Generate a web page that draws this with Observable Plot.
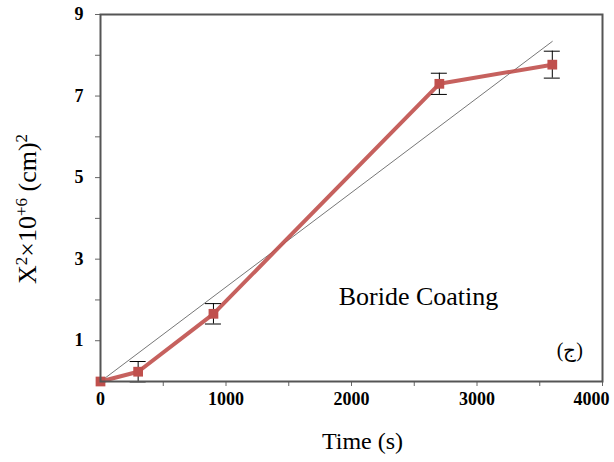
<!DOCTYPE html>
<html>
<head>
<meta charset="utf-8">
<script src="https://cdn.jsdelivr.net/npm/d3@7"></script>
<script src="https://cdn.jsdelivr.net/npm/@observablehq/plot@0.6"></script>
<style>
  html, body { margin: 0; padding: 0; background: #fff; }
  #chart svg { display: block; }
</style>
</head>
<body>
<div id="chart"></div>
<script>
// Data
const times = [0, 300, 900, 2700, 3600];           // Time (s)
const values = [0, 0.24, 1.66, 7.30, 7.77];        // X^2 x 10^-6 (cm)^2
const errors = [0, 0.25, 0.25, 0.26, 0.33];        // error bar half-widths
const trendTimes = [0, 3600];                       // linear trend line ends
const trendValues = [0, 8.34];
const xTicks = [0, 500, 1000, 1500, 2000, 2500, 3000, 3500, 4000];
const xLabelTicks = [0, 1000, 2000, 3000];
const xLastTick = [4000];
const yTicks = [1, 2, 3, 4, 5, 6, 7, 8, 9];
const xTitle = "Time (s)";
const yTitleParts = [["X", 0], ["2", 1], ["×10", 0], ["+6", 1], [" (cm)", 0], ["2", 1]];
const notes = [
  {text: "Boride Coating", x: 2534, y: 2.08, size: 26, weight: "normal"},
  {text: "\u200E(\u062C\u200E)\u200E", x: 3740, y: 0.75, size: 20, weight: "bold"}
];

const points = times.map((t, i) => ({t, v: values[i], e: errors[i]}));
const bars = points.filter(d => d.e > 0);
const trend = trendTimes.map((t, i) => ({t, v: trendValues[i]}));

const red = "#c0504d";
const serif = "'Liberation Serif', 'Times New Roman', serif";
const tickStyle = {fontSize: 18, fontWeight: "bold", stroke: "#666", label: null};

const chart = Plot.plot({
  width: 614,
  height: 462,
  marginLeft: 100,
  marginRight: 12,
  marginTop: 14,
  marginBottom: 81,
  style: {fontFamily: serif, background: "#fff", color: "#000"},
  x: {domain: [0, 4000]},
  y: {domain: [0, 9]},
  marks: [
    Plot.axisX({ticks: xTicks, tickFormat: null, text: null, tickSize: 5, stroke: "#666", label: null}),
    Plot.axisX({ticks: xLabelTicks, tickFormat: d => String(d), tickSize: 0, tickPadding: 11, ...tickStyle}),
    Plot.axisX({ticks: xLastTick, tickFormat: d => String(d), tickSize: 0, tickPadding: 11, dx: -11, ...tickStyle}),
    Plot.axisY({ticks: yTicks, tickFormat: d => d % 2 === 1 ? String(d) : "", tickSize: 5, tickPadding: 12, ...tickStyle}),
    Plot.line(trend, {x: "t", y: "v", stroke: "#777", strokeWidth: 1}),
    Plot.line(points, {x: "t", y: "v", stroke: red, strokeWidth: 4, strokeOpacity: 0.9}),
    Plot.ruleX(bars, {x: "t", y1: d => d.v - d.e, y2: d => d.v + d.e, stroke: "#000", strokeWidth: 1}),
    Plot.ruleY(bars, {y: d => d.v - d.e, x1: "t", x2: "t", insetLeft: -8, insetRight: -8, stroke: "#000", strokeWidth: 1}),
    Plot.ruleY(bars, {y: d => d.v + d.e, x1: "t", x2: "t", insetLeft: -8, insetRight: -8, stroke: "#000", strokeWidth: 1}),
    Plot.dot(points, {x: "t", y: "v", symbol: "square", r: 5.5, fill: red, stroke: "none"}),
    Plot.frame({stroke: "#555", strokeWidth: 2}),
    Plot.text(notes, {x: "x", y: "y", text: "text", fontSize: d => d.size, fontWeight: d => d.weight, fill: "#000"}),
    Plot.text([xTitle], {frameAnchor: "bottom", textAnchor: "middle", lineAnchor: "middle", dx: 11, dy: 60, fontSize: 24, fill: "#000"})
  ]
});

// y-axis title with true superscripts
const svg = d3.select(chart);
const yt = svg.append("text")
  .attr("transform", "translate(36,209) rotate(-90)")
  .attr("text-anchor", "middle")
  .attr("font-family", serif)
  .attr("font-size", 26)
  .attr("fill", "#000");
yTitleParts.forEach(([s, sup]) => {
  const ts = yt.append("tspan").text(s);
  if (sup) ts.attr("font-size", 17).attr("baseline-shift", "super");
});

document.getElementById("chart").appendChild(chart);
</script>
</body>
</html>
